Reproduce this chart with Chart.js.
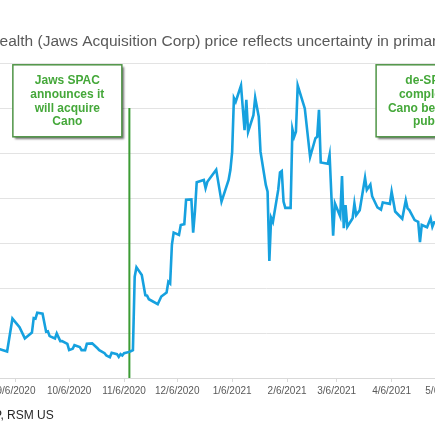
<!DOCTYPE html>
<html>
<head>
<meta charset="utf-8">
<script src="https://cdn.jsdelivr.net/npm/chart.js@4.4.0/dist/chart.umd.min.js"></script>
<style>
  html, body { margin: 0; padding: 0; width: 435px; height: 435px; overflow: hidden; background: #ffffff; }
  #wrap { position: absolute; left: -80px; top: 0; width: 624px; height: 435px; }
  canvas { display: block; }
</style>
</head>
<body>
<div id="wrap"><canvas id="c" width="624" height="435"></canvas></div>
<script>
// ---- data ----
const titleText = 'Cano Health (Jaws Acquisition Corp) price reflects uncertainty in primary care market';
const sourceText = 'Source: S&P, RSM US';

const dates = [
  '2020-08-26','2020-08-27','2020-08-28','2020-09-01','2020-09-04','2020-09-08','2020-09-11','2020-09-15','2020-09-16','2020-09-17',
  '2020-09-18','2020-09-21','2020-09-23','2020-09-24','2020-09-25','2020-09-28','2020-09-29','2020-10-01','2020-10-02','2020-10-05',
  '2020-10-06','2020-10-08','2020-10-09','2020-10-12','2020-10-13','2020-10-15','2020-10-16','2020-10-19','2020-10-22','2020-10-23',
  '2020-10-26','2020-10-27','2020-10-29','2020-10-30','2020-11-02','2020-11-03','2020-11-04','2020-11-05','2020-11-06','2020-11-09',
  '2020-11-10','2020-11-11','2020-11-12','2020-11-13','2020-11-16','2020-11-18','2020-11-19','2020-11-20','2020-11-25','2020-11-27',
  '2020-11-30','2020-12-01','2020-12-02','2020-12-03','2020-12-04','2020-12-07','2020-12-08','2020-12-10','2020-12-11','2020-12-14',
  '2020-12-15','2020-12-16','2020-12-17','2020-12-21','2020-12-22','2020-12-23','2020-12-28','2020-12-31','2021-01-04','2021-01-05',
  '2021-01-06','2021-01-07','2021-01-08','2021-01-11','2021-01-12','2021-01-13','2021-01-14','2021-01-15','2021-01-18','2021-01-19',
  '2021-01-21','2021-01-22','2021-01-25','2021-01-26','2021-01-27','2021-01-28','2021-01-29','2021-02-01','2021-02-02','2021-02-03',
  '2021-02-04','2021-02-05','2021-02-08','2021-02-09','2021-02-10','2021-02-11','2021-02-12','2021-02-16','2021-02-19','2021-02-22',
  '2021-02-23','2021-02-24','2021-02-25','2021-03-01','2021-03-02','2021-03-04','2021-03-05','2021-03-08','2021-03-09','2021-03-10',
  '2021-03-11','2021-03-12','2021-03-15','2021-03-16','2021-03-17','2021-03-19','2021-03-22','2021-03-23','2021-03-25','2021-03-26',
  '2021-03-29','2021-03-31','2021-04-01','2021-04-05','2021-04-06','2021-04-07','2021-04-08','2021-04-12','2021-04-14','2021-04-15',
  '2021-04-16','2021-04-19','2021-04-21','2021-04-22','2021-04-23','2021-04-26','2021-04-28','2021-04-29','2021-04-30','2021-05-03'
];
const prices = [
  10.62,10.64,10.64,10.59,11.32,11.13,10.88,11.01,11.33,11.32,
  11.45,11.43,11.03,11.04,10.93,10.88,10.99,10.82,10.82,10.76,
  10.62,10.65,10.73,10.69,10.62,10.62,10.76,10.77,10.66,10.62,
  10.55,10.50,10.46,10.56,10.53,10.47,10.53,10.50,10.55,10.58,
  10.60,10.62,12.25,12.46,12.29,11.84,11.83,11.75,11.64,11.81,
  11.90,12.14,12.10,12.96,13.23,13.18,13.40,13.42,13.96,13.97,
  13.23,13.70,14.35,14.40,14.22,14.36,14.63,13.92,14.40,14.62,
  15.02,16.22,16.14,16.50,16.00,15.51,16.18,15.47,15.84,16.23,
  15.81,15.03,14.29,14.14,12.60,13.56,13.47,14.18,14.57,14.60,
  13.92,13.78,13.78,15.53,15.36,15.47,16.50,15.99,14.91,15.33,
  15.36,15.96,14.79,14.76,14.96,13.16,13.88,13.59,14.49,13.33,
  13.84,13.36,13.55,13.88,13.62,13.73,14.45,14.18,14.30,14.04,
  13.79,13.74,13.90,13.87,14.14,13.92,13.70,13.54,13.95,13.77,
  13.73,13.51,13.47,13.02,13.40,13.35,13.55,13.36,13.46,13.45
];
const tickLabels = ['8/6/2020','9/6/2020','10/6/2020','11/6/2020','12/6/2020','1/6/2021','2/6/2021','3/6/2021','4/6/2021','5/6/2021','6/6/2021'];
const announceDate = '2020-11-09';
const announceRange = [10, 16];
const boxTexts = [
  ['Jaws SPAC', 'announces it', 'will acquire', 'Cano'],
  ['de-SPAC', 'completed,', 'Cano becomes', 'public']
];
const boxDates = ['2020-10-05', '2021-04-28'];
const boxTopValue = 16.96;
const yMin = 10, yMax = 17;
const xMinDate = '2020-08-22', xMaxDate = '2021-07-01';

// ---- helpers ----
const BASE = Date.UTC(2020, 0, 1);
function dayNum(iso) {
  const p = iso.split('-').map(Number);
  return (Date.UTC(p[0], p[1] - 1, p[2]) - BASE) / 86400000;
}
function dayFromLabel(lbl) {
  const p = lbl.split('/').map(Number);
  return (Date.UTC(p[2], p[0] - 1, p[1]) - BASE) / 86400000;
}
const tickDays = tickLabels.map(dayFromLabel);
const labelMap = {};
tickDays.forEach((d, i) => { labelMap[d] = tickLabels[i]; });

const priceData = dates.map((d, i) => ({ x: dayNum(d), y: prices[i] }));
const aDay = dayNum(announceDate);
const announceData = [{ x: aDay, y: announceRange[0] }, { x: aDay, y: announceRange[1] }];

const FONT = '"Liberation Sans", Arial, sans-serif';
const OFFSET = 80; // canvas is shifted left by this amount

const decorPlugin = {
  id: 'decor',
  afterDraw(chart) {
    const ctx = chart.ctx;
    const xs = chart.scales.x, ys = chart.scales.y;
    ctx.save();
    // title
    ctx.font = '15.5px ' + FONT;
    ctx.fillStyle = '#595959';
    ctx.textBaseline = 'middle';
    ctx.textAlign = 'left';
    const tx = OFFSET + 37.5 - ctx.measureText('Cano Health ').width;
    ctx.fillText(titleText, tx, 42);
    // source
    ctx.font = '12px ' + FONT;
    ctx.fillStyle = '#262626';
    const sx = OFFSET + 2 - ctx.measureText('Source: S&P').width;
    ctx.fillText(sourceText, sx, 416);
    // annotation boxes
    const bw = 109, bh = 72;
    boxDates.forEach((bd, i) => {
      const cx = xs.getPixelForValue(dayNum(bd));
      const top = ys.getPixelForValue(boxTopValue);
      const left = cx - bw / 2;
      ctx.save();
      ctx.shadowColor = 'rgba(0,0,0,0.55)';
      ctx.shadowOffsetX = 2;
      ctx.shadowOffsetY = 2;
      ctx.shadowBlur = 2;
      ctx.fillStyle = '#ffffff';
      ctx.fillRect(left, top, bw, bh);
      ctx.restore();
      ctx.strokeStyle = '#4f9446';
      ctx.lineWidth = 1.5;
      ctx.strokeRect(left, top, bw, bh);
      ctx.font = 'bold 12px ' + FONT;
      ctx.fillStyle = '#45a83a';
      ctx.textAlign = 'center';
      ctx.textBaseline = 'middle';
      boxTexts[i].forEach((line, k) => {
        ctx.fillText(line, cx, top + 16 + k * 13.7);
      });
    });
    ctx.restore();
  }
};

new Chart(document.getElementById('c'), {
  type: 'line',
  data: {
    datasets: [
      {
        label: 'Price',
        data: priceData,
        borderColor: '#16a1df',
        borderWidth: 2.6,
        pointRadius: 0,
        tension: 0,
        fill: false
      },
      {
        label: 'Announcement',
        data: announceData,
        borderColor: '#3c9c35',
        borderWidth: 2,
        pointRadius: 0,
        fill: false
      }
    ]
  },
  options: {
    responsive: false,
    animation: false,
    events: [],
    layout: { padding: { top: 63, left: 0, right: 0, bottom: 0 } },
    plugins: {
      legend: { display: false },
      tooltip: { enabled: false },
      title: { display: false }
    },
    scales: {
      x: {
        type: 'linear',
        min: dayNum(xMinDate),
        max: dayNum(xMaxDate),
        afterBuildTicks(scale) {
          scale.ticks = tickDays.filter(d => d >= scale.min && d <= scale.max).map(v => ({ value: v }));
        },
        afterFit(scale) { scale.height = 57; },
        grid: { drawOnChartArea: false, drawTicks: true, tickLength: 4, color: '#d9d9d9' },
        border: { display: true, color: '#d9d9d9', width: 1 },
        ticks: {
          autoSkip: false,
          maxRotation: 0,
          padding: 3,
          color: '#595959',
          font: { family: FONT, size: 10 },
          callback: (v) => labelMap[v] || ''
        }
      },
      y: {
        min: yMin,
        max: yMax,
        afterFit(scale) { scale.width = 69.4; },
        ticks: { display: false, stepSize: 1 },
        grid: { color: '#e3e3e3', drawTicks: false, lineWidth: 1 },
        border: { display: false }
      }
    }
  },
  plugins: [decorPlugin]
});
</script>
</body>
</html>
